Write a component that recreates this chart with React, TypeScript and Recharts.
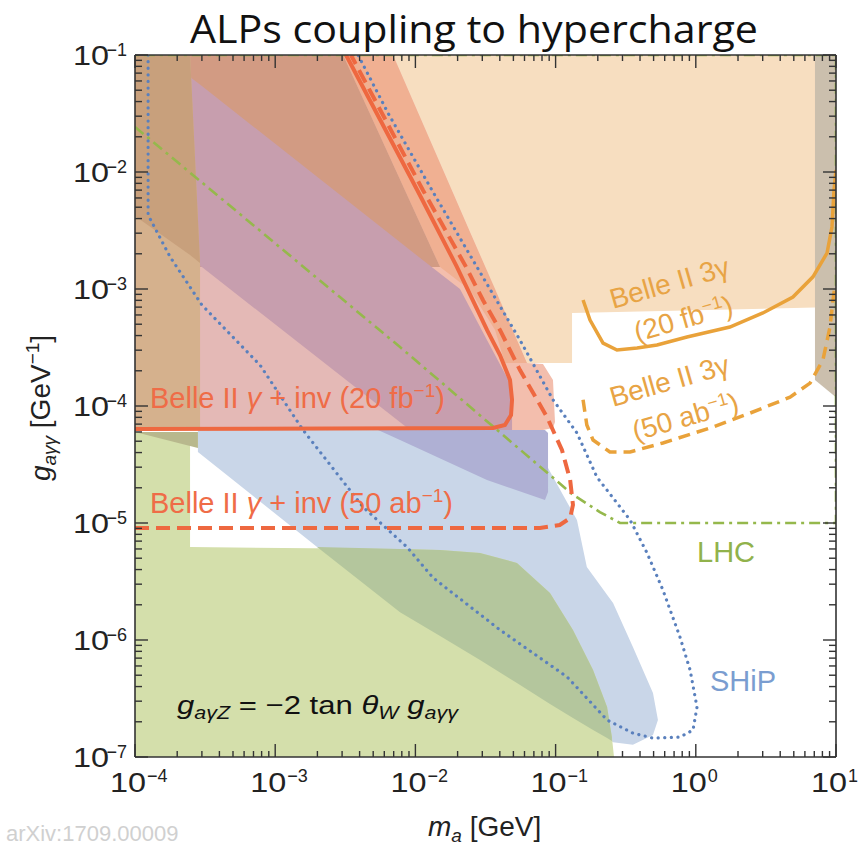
import React from "react";
import { ComposedChart, Area, Line, XAxis, YAxis } from "recharts";

type Band = { m: number; g: [number, number] };
type Pt = { m: number; g: number };

const X_DECADES = [1e-4, 1e-3, 1e-2, 1e-1, 1, 10];
const Y_DECADES = [1e-7, 1e-6, 1e-5, 1e-4, 1e-3, 1e-2, 1e-1];
const MANTISSAS = [1, 2, 3, 4, 5, 6, 7, 8, 9];

const xTicks = X_DECADES.flatMap((d) => MANTISSAS.map((k) => k * d)).filter((v) => v <= 10.0001);
const yTicks = Y_DECADES.flatMap((d) => MANTISSAS.map((k) => k * d)).filter((v) => v <= 0.10001);

// shaded regions, g = [lower, upper]
const peachBand: Band[] = [
  { m: 6.9e-3, g: [0.1, 0.1] },
  { m: 6.25e-2, g: [2.33e-4, 0.1] },
  { m: 0.131, g: [2.33e-4, 0.1] },
  { m: 0.131, g: [6.24e-4, 0.1] },
  { m: 10, g: [7.0e-4, 0.1] },
];

const grayBand: Band[] = [
  { m: 7.08, g: [1.67e-4, 0.1] },
  { m: 10, g: [1.19e-4, 0.1] },
];

const blueBand: Band[] = [
  { m: 2.81e-4, g: [4.05e-5, 6.23e-5] },
  { m: 1.99e-3, g: [6.23e-6, 6.23e-5] },
  { m: 9.15e-3, g: [1.7e-6, 6.23e-5] },
  { m: 2.89e-2, g: [6.75e-7, 6.23e-5] },
  { m: 6.25e-2, g: [3.74e-7, 6.23e-5] },
  { m: 0.142, g: [2.07e-7, 1.06e-5] },
  { m: 0.167, g: [1.84e-7, 4.21e-6] },
  { m: 0.257, g: [1.34e-7, 2.07e-6] },
  { m: 0.356, g: [1.27e-7, 8.7e-7] },
  { m: 0.495, g: [1.54e-7, 3.52e-7] },
  { m: 0.537, g: [2.07e-7, 2.07e-7] },
];

const greenBand: Band[] = [
  { m: 1e-4, g: [1e-7, 5.99e-5] },
  { m: 2.47e-4, g: [1e-7, 5.99e-5] },
  { m: 2.47e-4, g: [1e-7, 6.23e-6] },
  { m: 7.77e-3, g: [1e-7, 6.0e-6] },
  { m: 1.5e-2, g: [1e-7, 5.88e-6] },
  { m: 2.89e-2, g: [1e-7, 5.55e-6] },
  { m: 5.3e-2, g: [1e-7, 4.55e-6] },
  { m: 9.12e-2, g: [1e-7, 2.52e-6] },
  { m: 0.133, g: [1e-7, 1.22e-6] },
  { m: 0.185, g: [1e-7, 5.55e-7] },
  { m: 0.233, g: [1e-7, 2.67e-7] },
  { m: 0.252, g: [1e-7, 1.48e-7] },
  { m: 0.261, g: [1e-7, 1e-7] },
];

const overlapGreenBand: Band[] = [
  { m: 1.99e-3, g: [6.23e-6, 6.23e-6] },
  { m: 7.77e-3, g: [1.73e-6, 6.0e-6] },
  { m: 1.5e-2, g: [1.08e-6, 5.88e-6] },
  { m: 2.89e-2, g: [6.75e-7, 5.55e-6] },
  { m: 5.3e-2, g: [4.29e-7, 4.55e-6] },
  { m: 9.12e-2, g: [2.84e-7, 2.52e-6] },
  { m: 0.133, g: [2.15e-7, 1.22e-6] },
  { m: 0.185, g: [1.7e-7, 5.55e-7] },
  { m: 0.233, g: [1.45e-7, 2.67e-7] },
  { m: 0.252, g: [1.37e-7, 1.48e-7] },
];

const pinkBand: Band[] = [
  { m: 2.47e-4, g: [6.23e-5, 0.1] },
  { m: 6.92e-3, g: [6.23e-5, 0.1] },
  { m: 6.25e-2, g: [6.23e-5, 2.33e-4] },
  { m: 8.13e-2, g: [6.23e-5, 2.28e-4] },
  { m: 9.58e-2, g: [6.49e-5, 1.67e-4] },
  { m: 9.9e-2, g: [7.3e-5, 7.3e-5] },
];

const mutedPinkBand: Band[] = [
  { m: 2.91e-4, g: [6.23e-5, 1.67e-3] },
  { m: 9.15e-3, g: [6.23e-5, 6.23e-5] },
];

const salmonBand: Band[] = [
  { m: 3.05e-3, g: [0.1, 0.1] },
  { m: 6.92e-3, g: [1.17e-2, 0.1] },
  { m: 1.5e-2, g: [1.54e-3, 1.19e-2] },
  { m: 2.45e-2, g: [9.8e-4, 3.07e-3] },
  { m: 3.7e-2, g: [4.47e-4, 1.0e-3] },
  { m: 4.35e-2, g: [2.33e-4, 6.36e-4] },
  { m: 6.25e-2, g: [2.33e-4, 2.33e-4] },
];

const darkSalmonBand: Band[] = [
  { m: 2.47e-4, g: [1.54e-3, 0.1] },
  { m: 3.05e-3, g: [1.54e-3, 0.1] },
  { m: 1.5e-2, g: [1.54e-3, 1.54e-3] },
];

const purpleBand: Band[] = [
  { m: 2.47e-4, g: [1.67e-3, 6.49e-2] },
  { m: 3.0e-4, g: [1.54e-3, 5.43e-2] },
  { m: 9.15e-3, g: [6.23e-5, 2.15e-3] },
  { m: 2.08e-2, g: [6.23e-5, 1.0e-3] },
  { m: 3.24e-2, g: [6.23e-5, 3.66e-4] },
  { m: 4.73e-2, g: [6.23e-5, 1.57e-4] },
  { m: 4.89e-2, g: [6.23e-5, 1.13e-4] },
];

const bluePurpleBand: Band[] = [
  { m: 5.41e-3, g: [6.23e-5, 6.23e-5] },
  { m: 7.77e-3, g: [5.12e-5, 6.23e-5] },
  { m: 3.24e-2, g: [2.33e-5, 6.23e-5] },
  { m: 8.4e-2, g: [1.57e-5, 6.23e-5] },
  { m: 8.83e-2, g: [1.84e-5, 5.88e-5] },
];

const tanBand: Band[] = [
  { m: 1e-4, g: [6.23e-5, 0.1] },
  { m: 2.47e-4, g: [6.23e-5, 0.1] },
  { m: 2.91e-4, g: [6.23e-5, 1.67e-3] },
];

const brownBand: Band[] = [
  { m: 1e-4, g: [4.2e-3, 0.1] },
  { m: 2.47e-4, g: [1.95e-3, 0.1] },
  { m: 2.91e-4, g: [1.67e-3, 1.67e-3] },
];

const oliveBand: Band[] = [
  { m: 1e-4, g: [5.99e-5, 5.99e-5] },
  { m: 2.81e-4, g: [4.38e-5, 5.99e-5] },
];

// contour lines
const belleInv20: Pt[] = [
  { m: 1e-4, g: 6.35e-5 },
  { m: 3.58e-2, g: 6.49e-5 },
  { m: 4.35e-2, g: 6.89e-5 },
  { m: 4.81e-2, g: 8.37e-5 },
  { m: 4.89e-2, g: 1.13e-4 },
  { m: 4.73e-2, g: 1.67e-4 },
  { m: 4.01e-2, g: 2.73e-4 },
  { m: 3.24e-2, g: 4.47e-4 },
  { m: 1.98e-2, g: 1.54e-3 },
  { m: 1.03e-2, g: 7.02e-3 },
  { m: 3.2e-3, g: 0.1 },
];

const belleInv50: Pt[] = [
  { m: 1e-4, g: 9.06e-6 },
  { m: 7.74e-2, g: 9.06e-6 },
  { m: 0.107, g: 9.61e-6 },
  { m: 0.127, g: 1.1e-5 },
  { m: 0.133, g: 1.43e-5 },
  { m: 0.127, g: 2.33e-5 },
  { m: 0.111, g: 4.21e-5 },
  { m: 8.68e-2, g: 8.05e-5 },
  { m: 5.57e-2, g: 2.03e-4 },
  { m: 4.01e-2, g: 4.47e-4 },
  { m: 3.03e-2, g: 8.05e-4 },
  { m: 2.3e-2, g: 1.54e-3 },
  { m: 1.13e-2, g: 7.02e-3 },
  { m: 3.47e-3, g: 0.1 },
];

const shipLine: Pt[] = [
  { m: 1.24e-4, g: 0.1 },
  { m: 1.24e-4, g: 4.29e-3 },
  { m: 1.78e-4, g: 1.88e-3 },
  { m: 3.0e-4, g: 7.3e-4 },
  { m: 7.79e-4, g: 2.24e-4 },
  { m: 1.58e-3, g: 6.23e-5 },
  { m: 4.23e-3, g: 1.37e-5 },
  { m: 8.71e-3, g: 6.23e-6 },
  { m: 1.34e-2, g: 3.39e-6 },
  { m: 4.01e-2, g: 1.22e-6 },
  { m: 0.121, g: 4.83e-7 },
  { m: 0.233, g: 2.07e-7 },
  { m: 0.356, g: 1.6e-7 },
  { m: 0.495, g: 1.45e-7 },
  { m: 0.771, g: 1.48e-7 },
  { m: 0.955, g: 1.7e-7 },
  { m: 1.02, g: 2.67e-7 },
  { m: 0.91, g: 5.55e-7 },
  { m: 0.771, g: 1.06e-6 },
  { m: 0.583, g: 2.67e-6 },
  { m: 0.449, g: 5.55e-6 },
  { m: 0.34, g: 1.06e-5 },
  { m: 0.197, g: 2.47e-5 },
  { m: 0.142, g: 5.88e-5 },
  { m: 9.58e-2, g: 1.13e-4 },
  { m: 5.57e-2, g: 3.66e-4 },
  { m: 2.75e-2, g: 1.54e-3 },
  { m: 1.31e-2, g: 7.02e-3 },
  { m: 6.38e-3, g: 3.19e-2 },
  { m: 3.9e-3, g: 0.1 },
];

const lhcLine: Pt[] = [
  { m: 1e-4, g: 2.43e-2 },
  { m: 7.77e-3, g: 3.19e-4 },
  { m: 0.131, g: 1.77e-5 },
  { m: 0.207, g: 1.24e-5 },
  { m: 0.288, g: 1e-5 },
  { m: 10, g: 1e-5 },
  { m: 10, g: 0.1 },
  { m: 1e-4, g: 0.1 },
];

const belle3g20: Pt[] = [
  { m: 0.157, g: 8.05e-4 },
  { m: 0.176, g: 5.43e-4 },
  { m: 0.218, g: 3.45e-4 },
  { m: 0.274, g: 3.01e-4 },
  { m: 0.381, g: 3.13e-4 },
  { m: 0.529, g: 3.32e-4 },
  { m: 0.865, g: 3.89e-4 },
  { m: 1.75, g: 4.73e-4 },
  { m: 3.01, g: 6.24e-4 },
  { m: 4.93, g: 8.55e-4 },
  { m: 6.85, g: 1.27e-3 },
  { m: 8.63, g: 2.03e-3 },
  { m: 9.36, g: 3.39e-3 },
  { m: 9.68, g: 7.02e-3 },
  { m: 10, g: 1.04e-2 },
];

const belle3g50: Pt[] = [
  { m: 0.157, g: 1.13e-4 },
  { m: 0.167, g: 6.89e-5 },
  { m: 0.185, g: 5.12e-5 },
  { m: 0.244, g: 4.05e-5 },
  { m: 0.34, g: 4.05e-5 },
  { m: 0.583, g: 4.83e-5 },
  { m: 1.33, g: 6.62e-5 },
  { m: 2.44, g: 8.7e-5 },
  { m: 4.7, g: 1.19e-4 },
  { m: 6.53, g: 1.57e-4 },
  { m: 8.07, g: 2.47e-4 },
  { m: 9.06, g: 4.73e-4 },
  { m: 9.52, g: 8.05e-4 },
  { m: 9.84, g: 1.08e-3 },
];

const C = {
  peach: "#f7dec0",
  gray: "#cbbfad",
  blue: "#c9d6e8",
  green: "#d4dfab",
  darkGreen: "#b4c69d",
  pink: "#f3bead",
  mutedPink: "#e4b9b6",
  salmon: "#f0b092",
  darkSalmon: "#d29b83",
  purple: "#c79eae",
  bluePurple: "#afb0d4",
  tan: "#d5b18d",
  brown: "#c8a07c",
  olive: "#b8b88d",
  red: "#ee6840",
  orange: "#e9a23a",
  lhc: "#95b84c",
  ship: "#5a80bd",
  axis: "#333",
};

const FONT = '"Liberation Sans", Arial, Helvetica, sans-serif';

function isMajor(v: number) {
  const e = Math.log10(v);
  return Math.abs(e - Math.round(e)) < 1e-6;
}

function expLabel(v: number) {
  const e = Math.round(Math.log10(v));
  return e < 0 ? `\u2212${-e}` : `${e}`;
}

const renderBottomTick = (props: any) => {
  const { x, y, payload } = props;
  const major = isMajor(payload.value);
  return (
    <g>
      <line x1={x} x2={x} y1={y} y2={y - (major ? 13 : 6)} stroke={C.axis} strokeWidth={1.4} />
      {major && (
        <g fontFamily={FONT} fill="#222">
          <text x={x - 25} y={y + 35} fontSize={27} textLength={36} lengthAdjust="spacingAndGlyphs">
            10
          </text>
          <text x={x + 12} y={y + 25} fontSize={18}>
            {expLabel(payload.value)}
          </text>
        </g>
      )}
    </g>
  );
};

const renderTopTick = (props: any) => {
  const { x, y, payload } = props;
  const major = isMajor(payload.value);
  return <line x1={x} x2={x} y1={y} y2={y + (major ? 13 : 6)} stroke={C.axis} strokeWidth={1.4} />;
};

const renderLeftTick = (props: any) => {
  const { x, y, payload } = props;
  const major = isMajor(payload.value);
  return (
    <g>
      <line x1={x} x2={x + (major ? 13 : 7)} y1={y} y2={y} stroke={C.axis} strokeWidth={1.4} />
      {major && (
        <g fontFamily={FONT} fill="#222">
          <text x={x - 62} y={y + 10} fontSize={27} textLength={36} lengthAdjust="spacingAndGlyphs">
            10
          </text>
          <text x={x - 8} y={y + 1} fontSize={18} textAnchor="end">
            {expLabel(payload.value)}
          </text>
        </g>
      )}
    </g>
  );
};

const renderRightTick = (props: any) => {
  const { x, y, payload } = props;
  const major = isMajor(payload.value);
  return <line x1={x} x2={x - (major ? 13 : 7)} y1={y} y2={y} stroke={C.axis} strokeWidth={1.4} />;
};

export default function App() {
  const area = (data: Band[], fill: string, key: string) => (
    <Area
      key={key}
      data={data}
      dataKey="g"
      type="linear"
      stroke="none"
      fill={fill}
      fillOpacity={1}
      dot={false}
      activeDot={false}
      isAnimationActive={false}
    />
  );

  const axisLine = { stroke: C.axis, strokeWidth: 1.6 };

  return (
    <div style={{ position: "absolute", left: 0, top: 0, width: 861, height: 849, overflow: "hidden", background: "#fff" }}>
      <ComposedChart width={861} height={849} margin={{ top: 54, right: 24, bottom: 91, left: 134 }}>
        {area(peachBand, C.peach, "peach")}
        {area(grayBand, C.gray, "gray")}
        {area(blueBand, C.blue, "blue")}
        {area(greenBand, C.green, "green")}
        {area(overlapGreenBand, C.darkGreen, "darkGreen")}
        {area(pinkBand, C.pink, "pink")}
        {area(mutedPinkBand, C.mutedPink, "mutedPink")}
        {area(salmonBand, C.salmon, "salmon")}
        {area(darkSalmonBand, C.darkSalmon, "darkSalmon")}
        {area(purpleBand, C.purple, "purple")}
        {area(bluePurpleBand, C.bluePurple, "bluePurple")}
        {area(tanBand, C.tan, "tan")}
        {area(brownBand, C.brown, "brown")}
        {area(oliveBand, C.olive, "olive")}

        <Line data={lhcLine} dataKey="g" type="linear" stroke={C.lhc} strokeWidth={2.6} strokeDasharray="11 5 3 5" dot={false} activeDot={false} isAnimationActive={false} />
        <Line data={shipLine} dataKey="g" type="linear" stroke={C.ship} strokeWidth={3.2} strokeDasharray="0.1 6.5" strokeLinecap="round" dot={false} activeDot={false} isAnimationActive={false} />
        <Line data={belleInv20} dataKey="g" type="linear" stroke={C.red} strokeWidth={4} dot={false} activeDot={false} isAnimationActive={false} />
        <Line data={belleInv50} dataKey="g" type="linear" stroke={C.red} strokeWidth={4} strokeDasharray="14 7" dot={false} activeDot={false} isAnimationActive={false} />
        <Line data={belle3g20} dataKey="g" type="linear" stroke={C.orange} strokeWidth={3.5} dot={false} activeDot={false} isAnimationActive={false} />
        <Line data={belle3g50} dataKey="g" type="linear" stroke={C.orange} strokeWidth={3.5} strokeDasharray="12 7" dot={false} activeDot={false} isAnimationActive={false} />

        <XAxis dataKey="m" type="number" scale="log" domain={[1e-4, 10]} allowDataOverflow ticks={xTicks} interval={0} height={1} tickSize={0} tickMargin={0} tickLine={false} axisLine={axisLine} tick={renderBottomTick} />
        <XAxis xAxisId="top" orientation="top" dataKey="m" type="number" scale="log" domain={[1e-4, 10]} allowDataOverflow ticks={xTicks} interval={0} height={1} tickSize={0} tickMargin={0} tickLine={false} axisLine={axisLine} tick={renderTopTick} />
        <YAxis type="number" scale="log" domain={[1e-7, 0.1]} allowDataOverflow ticks={yTicks} interval={0} width={1} tickSize={0} tickMargin={0} tickLine={false} axisLine={axisLine} tick={renderLeftTick} />
        <YAxis yAxisId="right" orientation="right" type="number" scale="log" domain={[1e-7, 0.1]} allowDataOverflow ticks={yTicks} interval={0} width={1} tickSize={0} tickMargin={0} tickLine={false} axisLine={axisLine} tick={renderRightTick} />
      </ComposedChart>

      <svg width={861} height={849} style={{ position: "absolute", left: 0, top: 0, pointerEvents: "none" }}>
        <text x={190} y={43} fontFamily='"Open Sans", sans-serif' fontSize={39} fill="#111" textLength={568} lengthAdjust="spacingAndGlyphs">
          ALPs coupling to hypercharge
        </text>

        <g fontFamily={FONT}>
          <text transform="translate(50 408) rotate(-90)" textAnchor="middle" fontSize={28} fill="#222">
            <tspan fontStyle="italic">g</tspan>
            <tspan fontStyle="italic" fontSize={19} dy={6}>aγγ</tspan>
            <tspan dy={-6}> [GeV</tspan>
            <tspan fontSize={19} dy={-11}>−1</tspan>
            <tspan dy={11}>]</tspan>
          </text>
          <text x={428} y={836} fontSize={28} fill="#222">
            <tspan fontStyle="italic">m</tspan>
            <tspan fontStyle="italic" fontSize={19} dy={6}>a</tspan>
            <tspan dy={-6}> [GeV]</tspan>
          </text>
          <text x={6} y={841} fontSize={22} fill="#d0d0d0">arXiv:1709.00009</text>

          <text x={150} y={408} fontSize={29} fill="#ef6c47">
            Belle II <tspan fontStyle="italic">γ</tspan> + inv (20 fb
            <tspan fontSize={19} dy={-11}>−1</tspan>
            <tspan dy={11}>)</tspan>
          </text>
          <text x={150} y={513} fontSize={29} fill="#ef6c47">
            Belle II <tspan fontStyle="italic">γ</tspan> + inv (50 ab
            <tspan fontSize={19} dy={-11}>−1</tspan>
            <tspan dy={11}>)</tspan>
          </text>

          <g fill="#e8a445" fontSize={28} textAnchor="middle">
            <text x={672} y={292} transform="rotate(-16 672 292)">Belle II 3γ</text>
            <text x={686} y={328} transform="rotate(-16 686 328)">
              (20 fb<tspan fontSize={18} dy={-10}>−1</tspan><tspan dy={10}>)</tspan>
            </text>
            <text x={672} y={390} transform="rotate(-16 672 390)">Belle II 3γ</text>
            <text x={688} y={426} transform="rotate(-16 688 426)">
              (50 ab<tspan fontSize={18} dy={-10}>−1</tspan><tspan dy={10}>)</tspan>
            </text>
          </g>

          <text x={697} y={562} fontSize={29} fill="#91b24b">LHC</text>
          <text x={710} y={691} fontSize={29} fill="#7a9dd0">SHiP</text>

          <text x={177} y={714} fontSize={26} fill="#111" textLength={281} lengthAdjust="spacingAndGlyphs">
            <tspan fontStyle="italic">g</tspan>
            <tspan fontStyle="italic" fontSize={18} dy={5}>aγZ</tspan>
            <tspan dy={-5}> = −2 tan </tspan>
            <tspan fontStyle="italic">θ</tspan>
            <tspan fontStyle="italic" fontSize={18} dy={5}>W</tspan>
            <tspan dy={-5}> </tspan>
            <tspan fontStyle="italic">g</tspan>
            <tspan fontStyle="italic" fontSize={18} dy={5}>aγγ</tspan>
          </text>
        </g>
      </svg>
    </div>
  );
}
